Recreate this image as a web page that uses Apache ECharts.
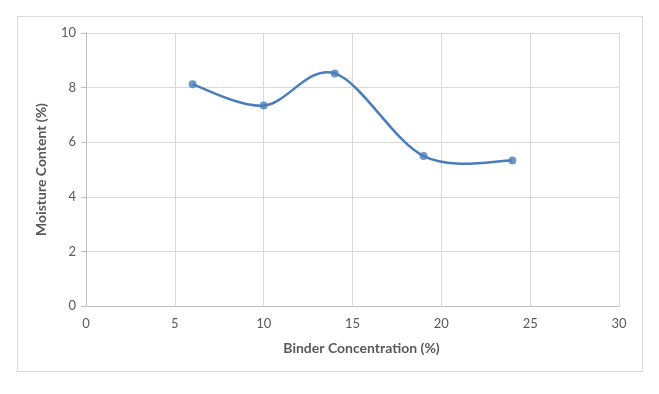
<!DOCTYPE html>
<html>
<head>
<meta charset="utf-8">
<script src="https://cdn.jsdelivr.net/npm/echarts@6/dist/echarts.min.js"></script>
<style>
  html, body { margin: 0; padding: 0; background: #fff; }
  #box { position: absolute; left: 17px; top: 16px; width: 624px; height: 354px; border: 1px solid #d9d9d9; }
  #chart { width: 659px; height: 394px; position: absolute; left: 0; top: 0; }
</style>
</head>
<body>
<div id="box"></div>
<div id="chart"></div>
<script>
const binderConc = [6, 10, 14, 19, 24]
const moisture = [8.12, 7.34, 8.52, 5.49, 5.33]

const chart = echarts.init(document.getElementById('chart'))
const font = 'Lato, "Open Sans", sans-serif'
const blue = '#4a7ebb'
const points = binderConc.map((x, i) => [x, moisture[i]])

// Excel-like smoothed line: cubic bezier per segment, tangents from neighbours
function renderSegment(params, api) {
  const i = params.dataIndex
  const n = points.length
  const p = k => api.coord(points[Math.max(0, Math.min(n - 1, k))])
  const p0 = p(i - 1), p1 = p(i), p2 = p(i + 1), p3 = p(i + 2)
  return {
    type: 'bezierCurve',
    shape: {
      x1: p1[0], y1: p1[1],
      x2: p2[0], y2: p2[1],
      cpx1: p1[0] + (p2[0] - p0[0]) / 6,
      cpy1: p1[1] + (p2[1] - p0[1]) / 6,
      cpx2: p2[0] - (p3[0] - p1[0]) / 6,
      cpy2: p2[1] - (p3[1] - p1[1]) / 6
    },
    style: { stroke: blue, lineWidth: 2.5, fill: null }
  }
}

const option = {
  animation: false,
  grid: { left: 86, right: 40, top: 33, bottom: 88 },
  xAxis: {
    type: 'value',
    min: 0,
    max: 30,
    interval: 5,
    name: 'Binder Concentration (%)',
    nameLocation: 'middle',
    nameGap: 35,
    nameTextStyle: { color: '#595959', fontWeight: 'bold', fontSize: 14, fontFamily: font, padding: [0, 0, 0, 18] },
    axisLine: { lineStyle: { color: '#bfbfbf' } },
    axisTick: { show: false },
    axisLabel: { color: '#595959', fontSize: 13, fontFamily: font, margin: 11 },
    splitLine: { lineStyle: { color: '#d9d9d9' } }
  },
  yAxis: {
    type: 'value',
    min: 0,
    max: 10,
    interval: 2,
    name: 'Moisture Content (%)',
    nameLocation: 'middle',
    nameGap: 38,
    nameTextStyle: { color: '#595959', fontWeight: 'bold', fontSize: 14, fontFamily: font },
    axisLine: { show: true, lineStyle: { color: '#bfbfbf' } },
    axisTick: { show: true, length: 5, lineStyle: { color: '#bfbfbf' } },
    axisLabel: { color: '#595959', fontSize: 13, fontFamily: font, margin: 10 },
    splitLine: { lineStyle: { color: '#d9d9d9' } }
  },
  series: [
    {
      type: 'custom',
      renderItem: renderSegment,
      data: points.slice(0, -1),
      encode: { x: 0, y: 1 },
      silent: true
    },
    {
      type: 'scatter',
      data: points,
      symbol: 'circle',
      symbolSize: 8,
      itemStyle: { color: blue }
    }
  ]
}

chart.setOption(option)
</script>
</body>
</html>
